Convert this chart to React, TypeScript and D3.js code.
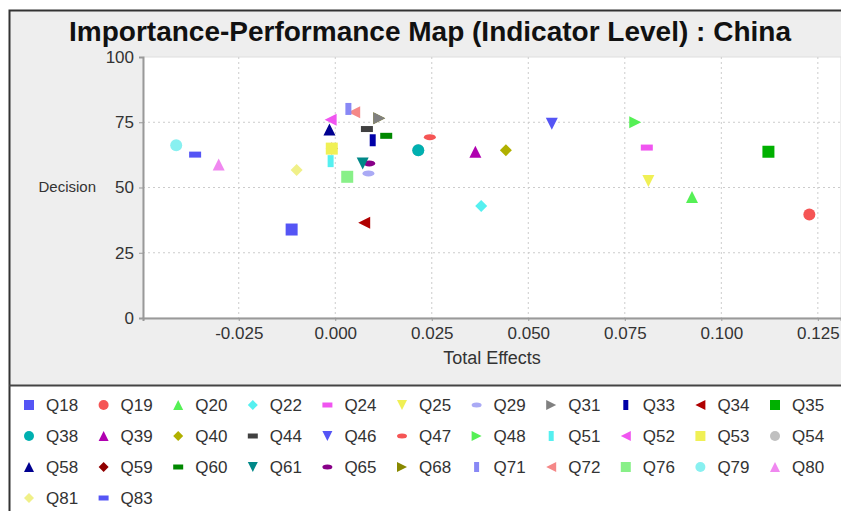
import * as d3 from 'd3';
import { useRef, useEffect } from 'react';

// series names, in legend order
const names = [
  'Q18', 'Q19', 'Q20', 'Q22', 'Q24', 'Q25', 'Q29', 'Q31', 'Q33', 'Q34', 'Q35',
  'Q38', 'Q39', 'Q40', 'Q44', 'Q46', 'Q47', 'Q48', 'Q51', 'Q52', 'Q53', 'Q54',
  'Q58', 'Q59', 'Q60', 'Q61', 'Q65', 'Q68', 'Q71', 'Q72', 'Q76', 'Q79', 'Q80',
  'Q81', 'Q83',
];

// Total Effects (x)
const totalEffects = [
  -0.0113, 0.1228, 0.0924, 0.0378, 0.0807, 0.0811, 0.0086, 0.0114, 0.0097, 0.0075, 0.1122,
  0.0215, 0.0363, 0.0442, 0.0082, 0.0561, 0.0245, 0.0777, -0.0012, -0.0012, -0.0009, 0.0215,
  -0.0015, -0.0009, 0.0132, 0.0071, 0.0088, 0.0114, 0.0034, 0.0049, 0.0031, -0.0412, -0.0302,
  -0.01, -0.0363,
];

// Decision (y)
const decision = [
  33.9, 39.7, 46.4, 42.9, 65.3, 52.5, 55.4, 76.5, 68.1, 36.5, 63.7,
  64.3, 63.7, 64.3, 72.4, 74.4, 69.3, 75.0, 60.1, 76.0, 64.9, 64.3,
  72.2, 64.9, 69.8, 59.2, 59.2, 76.5, 80.1, 78.8, 54.1, 66.2, 58.8,
  56.7, 62.6,
];

const colors = [
  '#5555f5', '#f55555', '#55f055', '#55f0f0', '#f055f0', '#f0f055', '#aaaaf5', '#808080', '#0000a8', '#b00000', '#00b000',
  '#00b0b0', '#b000b0', '#b0b000', '#404040', '#5555f5', '#f55555', '#55f055', '#55f0f0', '#f055f0', '#f0f055', '#c0c0c0',
  '#000090', '#900000', '#008800', '#008888', '#880088', '#888800', '#8888f5', '#f58888', '#88f088', '#88f0f0', '#f088f0',
  '#f0f088', '#5555f5',
];

const xTicks = [-0.025, 0, 0.025, 0.05, 0.075, 0.1, 0.125];
const yTicks = [0, 25, 50, 75, 100];

// shape sequence: square, circle, up-tri, diamond, h-rect, down-tri, h-ellipse, right-tri, v-rect, left-tri
const shapePath = (i: number, h: number) => {
  const k = i % 10;
  const q = h / 2;
  switch (k) {
    case 0: return `M${-h},${-h}H${h}V${h}H${-h}Z`;
    case 1: return `M${-h},0A${h},${h} 0 1,0 ${h},0A${h},${h} 0 1,0 ${-h},0Z`;
    case 2: return `M0,${-h}L${h},${h}L${-h},${h}Z`;
    case 3: return `M0,${-h}L${h},0L0,${h}L${-h},0Z`;
    case 4: return `M${-h},${-q}H${h}V${q}H${-h}Z`;
    case 5: return `M${-h},${-h}L${h},${-h}L0,${h}Z`;
    case 6: return `M${-h},0A${h},${q} 0 1,0 ${h},0A${h},${q} 0 1,0 ${-h},0Z`;
    case 7: return `M${-h},${-h}L${h},0L${-h},${h}Z`;
    case 8: return `M${-q},${-h}H${q}V${h}H${-q}Z`;
    default: return `M${-h},0L${h},${-h}L${h},${h}Z`;
  }
};

const W = 841;
const H = 511;
const plot = { left: 143, right: 841, top: 57, bottom: 318 };
const font = '"Liberation Sans", Arial, sans-serif';

const App = () => {
  const ref = useRef<SVGSVGElement>(null);

  useEffect(() => {
    const svg = d3.select(ref.current);
    svg.selectAll('*').remove();

    const x = d3.scaleLinear().domain([-0.0498, 0.131]).range([plot.left, plot.right]);
    const y = d3.scaleLinear().domain([0, 100]).range([plot.bottom, plot.top]);

    // panel background
    svg.append('rect').attr('width', W).attr('height', H).attr('fill', '#fff');
    svg.append('rect').attr('x', 9).attr('y', 10).attr('width', W).attr('height', 375)
      .attr('fill', '#eeeeee');
    svg.append('path').attr('d', `M9.5,${H}V10.5H${W}`).attr('fill', 'none')
      .attr('stroke', '#333').attr('stroke-width', 2);
    svg.append('line').attr('x1', 9).attr('x2', W).attr('y1', 385.5).attr('y2', 385.5)
      .attr('stroke', '#444').attr('stroke-width', 2);

    // title
    svg.append('text').attr('x', 430).attr('y', 41).attr('text-anchor', 'middle')
      .attr('font-family', font).attr('font-weight', 'bold').attr('font-size', 28)
      .attr('fill', '#111').text('Importance-Performance Map (Indicator Level) : China');

    // plot area
    svg.append('rect').attr('x', plot.left).attr('y', plot.top)
      .attr('width', plot.right - plot.left).attr('height', plot.bottom - plot.top)
      .attr('fill', '#fff').attr('stroke', '#ddd');

    const grid = svg.append('g').attr('stroke', '#cccccc').attr('stroke-dasharray', '2 3');
    grid.selectAll('.gx').data(xTicks).join('line')
      .attr('x1', (d) => x(d)).attr('x2', (d) => x(d))
      .attr('y1', plot.top).attr('y2', plot.bottom);
    grid.selectAll('.gy').data(yTicks.slice(1, 4)).join('line')
      .attr('y1', (d) => y(d)).attr('y2', (d) => y(d))
      .attr('x1', plot.left).attr('x2', plot.right);

    // axes
    const xAxis = svg.append('g').attr('transform', `translate(0,${plot.bottom})`)
      .call(d3.axisBottom(x).tickValues(xTicks).tickFormat((d: any) => d.toFixed(3)).tickSize(3).tickPadding(6));
    const yAxis = svg.append('g').attr('transform', `translate(${plot.left},0)`)
      .call(d3.axisLeft(y).tickValues(yTicks).tickSize(4).tickPadding(5));
    [xAxis, yAxis].forEach((a) => {
      a.select('.domain').attr('stroke', '#999').attr('stroke-width', 2);
      a.selectAll('.tick line').attr('stroke', '#999');
      a.selectAll('text').attr('font-family', font).attr('font-size', 17).attr('fill', '#333');
    });

    svg.append('text').attr('x', (plot.left + plot.right) / 2).attr('y', 364)
      .attr('text-anchor', 'middle').attr('font-family', font).attr('font-size', 18)
      .attr('fill', '#333').text('Total Effects');
    svg.append('text').attr('x', 96).attr('y', 192)
      .attr('text-anchor', 'end').attr('font-family', font).attr('font-size', 15)
      .attr('fill', '#333').text('Decision');

    // points, first series drawn last (on top)
    const idx = d3.range(names.length).reverse();
    svg.append('g').selectAll('path').data(idx).join('path')
      .attr('transform', (i) => `translate(${x(totalEffects[i])},${y(decision[i])})`)
      .attr('d', (i) => shapePath(i, 6))
      .attr('fill', (i) => colors[i]);

    // legend
    const cols = 11;
    const item = svg.append('g').selectAll('g').data(names).join('g')
      .attr('transform', (_, i) => `translate(${29 + (i % cols) * 74.6},${405 + Math.floor(i / cols) * 31})`);
    item.append('path').attr('d', (_, i) => shapePath(i, 5)).attr('fill', (_, i) => colors[i]);
    item.append('text').attr('x', 17).attr('y', 6).attr('font-family', font)
      .attr('font-size', 17).attr('fill', '#333').text((d) => d);
  }, []);

  return (
    <svg ref={ref} width={W} height={H} style={{ position: 'absolute', left: 0, top: 0 }} />
  );
};

export default App;
